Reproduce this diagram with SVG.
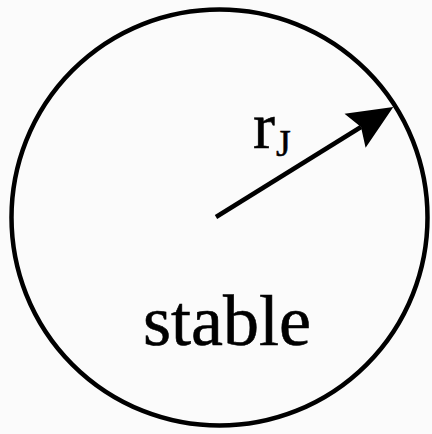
<svg xmlns="http://www.w3.org/2000/svg" width="432" height="434" viewBox="0 0 432 434">
  <style>
    .outline { fill: none; stroke: #000; stroke-width: 4.5; }
    .conn { stroke: #000; stroke-width: 4.5; fill: none; }
    .lbl { font-family: "Liberation Serif", "Times New Roman", serif; fill: #000; }
  </style>
  <defs>
    <marker id="arrow" markerUnits="userSpaceOnUse" markerWidth="50" markerHeight="50" viewBox="0 -25 50 50" refX="7" refY="0" orient="auto" overflow="visible">
      <path d="M45,0 L0,-20 L7,0 L0,20 Z" fill="#000"/>
    </marker>
  </defs>
  <rect x="0" y="0" width="432" height="434" fill="#fbfbfb"/>
  <g id="region-stable">
    <circle class="outline" cx="219.5" cy="217.5" r="208"/>
    <text class="lbl" x="143" y="345" font-size="72" stroke="#000" stroke-width="0.6">stable</text>
  </g>
  <g id="connectors">
    <line class="conn" x1="216" y1="217" x2="361" y2="127" marker-end="url(#arrow)"/>
  </g>
  <g id="label-rJ">
    <text class="lbl" x="253" y="148" font-size="66" stroke="#000" stroke-width="0.5">r<tspan font-size="38" dx="1" dy="8">J</tspan></text>
  </g>
</svg>
